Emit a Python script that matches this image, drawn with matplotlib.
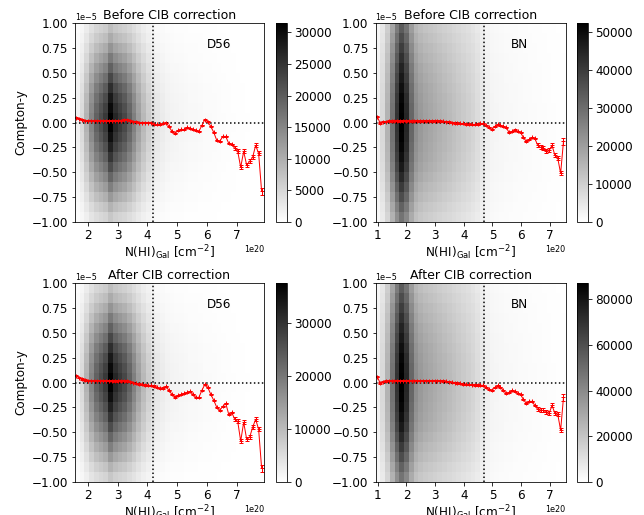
import matplotlib
matplotlib.use("Agg")
import matplotlib.pyplot as plt
from matplotlib.ticker import MultipleLocator
import numpy as np

plt.rcParams["font.size"] = 12

# ---- data (x in units of 1e20 cm^-2, y in units of 1e-5) ----
d56_xrange = (1.575, 7.9)
bn_xrange = (0.92, 7.55)

# relative column (N_HI) profile of the 2D histograms, 40 bins
d56_cols = [0.06, 0.15, 0.30, 0.48, 0.62, 0.70, 0.78, 1.00, 0.85, 0.78,
            0.72, 0.62, 0.50, 0.38, 0.28, 0.20, 0.14, 0.10, 0.08, 0.06,
            0.05, 0.045, 0.04, 0.035, 0.03, 0.03, 0.025, 0.02, 0.02, 0.018,
            0.015, 0.012, 0.01, 0.008, 0.006, 0.005, 0.004, 0.003, 0.002, 0.002]
bn_cols = [0.06, 0.15, 0.30, 0.55, 0.80, 1.00, 0.85, 0.60, 0.45, 0.40,
           0.37, 0.35, 0.33, 0.31, 0.29, 0.27, 0.25, 0.23, 0.21, 0.19,
           0.17, 0.14, 0.10, 0.06, 0.045, 0.04, 0.035, 0.03, 0.028, 0.025,
           0.022, 0.02, 0.018, 0.016, 0.014, 0.012, 0.01, 0.008, 0.006, 0.005]
# relative row (Compton-y) profile, 20 bins from -1 to 1
d56_rows = [0.22, 0.30, 0.40, 0.50, 0.60, 0.70, 0.79, 0.87, 0.94, 0.99,
            1.00, 0.96, 0.90, 0.82, 0.72, 0.62, 0.52, 0.42, 0.33, 0.26]
bn_rows = [0.55, 0.62, 0.70, 0.77, 0.84, 0.90, 0.94, 0.97, 0.99, 1.00,
           1.00, 0.99, 0.97, 0.94, 0.90, 0.86, 0.81, 0.76, 0.70, 0.64]
hist_max = {"d56_before": 31500, "bn_before": 52500,
            "d56_after": 37500, "bn_after": 87000}
cbar_step = {"d56_before": 5000, "bn_before": 10000,
             "d56_after": 10000, "bn_after": 20000}

# binned mean Compton-y
d56_before = [0.05, 0.04, 0.03, 0.02, 0.02, 0.02, 0.02, 0.02, 0.02, 0.02,
              0.02, 0.02, 0.02, 0.02, 0.02, 0.02, 0.03, 0.03, 0.02, 0.01,
              0.01, 0.00, 0.00, 0.00, 0.00, 0.00, -0.02, -0.02, -0.02, -0.01,
              0.00, -0.04, -0.09, -0.11, -0.08, -0.07, -0.07, -0.05, -0.06, -0.07,
              -0.08, -0.09, -0.03, 0.03, 0.01, -0.04, -0.10, -0.18, -0.19, -0.14,
              -0.14, -0.21, -0.22, -0.26, -0.29, -0.45, -0.29, -0.43, -0.39, -0.35,
              -0.23, -0.31, -0.69]
d56_after = [0.07, 0.05, 0.035, 0.025, 0.02, 0.02, 0.02, 0.02, 0.02, 0.02,
             0.02, 0.02, 0.015, 0.015, 0.015, 0.015, 0.015, 0.015, 0.01, 0.00,
             -0.01, -0.015, -0.02, -0.025, -0.03, -0.03, -0.035, -0.05, -0.06, -0.055,
             -0.04, -0.08, -0.12, -0.145, -0.13, -0.12, -0.11, -0.10, -0.09, -0.12,
             -0.15, -0.15, -0.08, -0.02, -0.05, -0.12, -0.18, -0.25, -0.28, -0.24,
             -0.21, -0.32, -0.30, -0.37, -0.39, -0.59, -0.40, -0.57, -0.55, -0.45,
             -0.37, -0.47, -0.86]
bn_before = [0.06, -0.005, 0.01, 0.01, 0.015, 0.015, 0.015, 0.015, 0.015, 0.015,
             0.015, 0.015, 0.015, 0.015, 0.015, 0.015, 0.015, 0.015, 0.015, 0.015,
             0.015, 0.015, 0.015, 0.012, 0.01, 0.005, 0.0, -0.005, -0.005, -0.01,
             -0.01, -0.015, -0.015, -0.02, -0.02, -0.015, -0.01, -0.01, -0.03, -0.05,
             -0.07, -0.04, -0.02, -0.03, -0.04, -0.05, -0.10, -0.09, -0.075, -0.09,
             -0.10, -0.15, -0.19, -0.17, -0.15, -0.16, -0.23, -0.25, -0.26, -0.29,
             -0.28, -0.23, -0.33, -0.36, -0.51, -0.19]
bn_after = [0.06, -0.005, 0.01, 0.015, 0.017, 0.017, 0.017, 0.017, 0.017, 0.017,
            0.017, 0.017, 0.017, 0.017, 0.017, 0.017, 0.017, 0.017, 0.017, 0.017,
            0.017, 0.017, 0.017, 0.015, 0.012, 0.008, 0.003, 0.0, -0.005, -0.01,
            -0.015, -0.02, -0.02, -0.024, -0.025, -0.025, -0.027, -0.03, -0.05, -0.07,
            -0.08, -0.05, -0.03, -0.05, -0.08, -0.11, -0.10, -0.08, -0.09, -0.11,
            -0.12, -0.17, -0.21, -0.19, -0.19, -0.23, -0.27, -0.28, -0.28, -0.30,
            -0.31, -0.23, -0.31, -0.32, -0.48, -0.15]
d56_x0, bn_x0, step = 1.62, 0.98, 0.1
d56_cut, bn_cut = 4.2, 4.7


def errors(n, tail):
    e = np.full(n, 0.006)
    e[-tail:] = 0.02
    e[-1] = 0.035
    return e


def panel(ax_rect, cb_rect, xr, cols, rows, key, yvals, x0, cut, title, name, ylabel):
    vmax = hist_max[key]
    ax = fig.add_axes(ax_rect)
    xe = np.linspace(xr[0], xr[1], len(cols) + 1) * 1e20
    ye = np.linspace(-1, 1, len(rows) + 1) * 1e-5
    H = np.outer(rows, cols)
    H = H / H.max() * vmax
    im = ax.pcolormesh(xe, ye, H, cmap="gray_r", vmin=0, vmax=vmax)
    n = len(yvals)
    xs = (x0 + step * np.arange(n)) * 1e20
    ax.errorbar(xs, np.array(yvals) * 1e-5, yerr=errors(n, 10) * 1e-5, color="red",
                marker="+", ms=4, lw=1, elinewidth=1, capsize=2)
    ax.axhline(0, color="k", ls=":", lw=1.5)
    ax.axvline(cut * 1e20, color="k", ls=":", lw=1.5)
    ax.set_xlim(xe[0], xe[-1])
    ax.set_ylim(-1e-5, 1e-5)
    ax.xaxis.set_major_locator(MultipleLocator(1e20))
    ax.yaxis.set_major_locator(MultipleLocator(0.25e-5))
    ax.yaxis.get_offset_text().set_fontsize(8)
    ax.xaxis.get_offset_text().set_fontsize(8)
    ax.set_title(title, y=1.0, pad=4, fontsize=12.5)
    ax.text(0.76, 0.89, name, transform=ax.transAxes, ha="center", va="center")
    ax.set_xlabel(r"N(HI)$_{\rm Gal}$ [cm$^{-2}$]", labelpad=1)
    if ylabel:
        ax.set_ylabel("Compton-y")
    cax = fig.add_axes(cb_rect)
    cb = fig.colorbar(im, cax=cax)
    cb.set_ticks(np.arange(0, vmax, cbar_step[key]))
    return ax


W, Hh, DPI = 644, 515, 72
fig = plt.figure(figsize=(W / DPI, Hh / DPI), dpi=DPI)


def r(x0, y0, x1, y1):
    return [x0 / W, 1 - y1 / Hh, (x1 - x0) / W, (y1 - y0) / Hh]


panel(r(75, 23, 264, 222), r(276, 23, 287, 222), d56_xrange, d56_cols, d56_rows,
      "d56_before", d56_before, d56_x0, d56_cut, "Before CIB correction", "D56", True)
panel(r(375.5, 23, 565.5, 222), r(577, 23, 588, 222), bn_xrange, bn_cols, bn_rows,
      "bn_before", bn_before, bn_x0, bn_cut, "Before CIB correction", "BN", False)
panel(r(75, 283, 264, 482), r(276, 283, 287, 482), d56_xrange, d56_cols, d56_rows,
      "d56_after", d56_after, d56_x0, d56_cut, "After CIB correction", "D56", True)
panel(r(375.5, 283, 565.5, 482), r(577, 283, 588, 482), bn_xrange, bn_cols, bn_rows,
      "bn_after", bn_after, bn_x0, bn_cut, "After CIB correction", "BN", False)

fig.savefig("out.png", dpi=DPI)
